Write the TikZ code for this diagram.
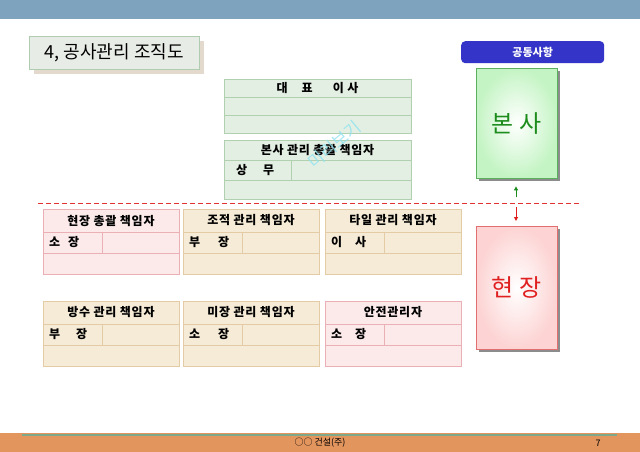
\documentclass[tikz,border=0pt]{standalone}
\usepackage{fontspec}
\setmainfont{Noto Sans CJK KR}
\usetikzlibrary{arrows.meta,shadows}

\definecolor{topband}{HTML}{7DA3BE}
\definecolor{footband}{HTML}{E3955E}
\definecolor{footline}{HTML}{7FA88A}
\definecolor{titlefill}{HTML}{E8ECE6}
\definecolor{titlerule}{HTML}{B0CCB0}
\definecolor{titleshadow}{HTML}{E3D9CC}
\definecolor{commonblue}{HTML}{3434C8}
\definecolor{hqgreen}{HTML}{C4F4C4}
\definecolor{hqrule}{HTML}{5CAF5C}
\definecolor{hqtext}{HTML}{1C8C1C}
\definecolor{sitepink}{HTML}{FDD3D3}
\definecolor{siterule}{HTML}{E07070}
\definecolor{sitetext}{HTML}{E02020}
\definecolor{greenfill}{HTML}{E3EFE3}
\definecolor{greenline}{HTML}{B0D0B0}
\definecolor{pinkfill}{HTML}{FCE9EA}
\definecolor{pinkline}{HTML}{EBB0B5}
\definecolor{beigefill}{HTML}{F6EBD6}
\definecolor{beigeline}{HTML}{E2CBA5}
\definecolor{dashred}{HTML}{E03030}
\definecolor{markcyan}{HTML}{8FE3F0}

\tikzset{
  greentab/.style={draw=greenline, fill=greenfill, inner sep=0pt, anchor=north west},
  pinktab/.style={draw=pinkline, fill=pinkfill, inner sep=0pt, anchor=north west},
  beigetab/.style={draw=beigeline, fill=beigefill, inner sep=0pt, anchor=north west},
  greenrule/.style={draw=greenline},
  pinkrule/.style={draw=pinkline},
  beigerule/.style={draw=beigeline},
  headtext/.style={font=\fontsize{12}{14}\selectfont\bfseries\addfontfeature{LetterSpace=6}, inner sep=0pt},
  celltext/.style={font=\fontsize{12}{14}\selectfont\bfseries, inner sep=0pt, anchor=west},
  sidebox/.style={minimum width=81pt, inner sep=0pt, anchor=north west,
    drop shadow={shadow xshift=3pt, shadow yshift=-3pt, fill=black!45, opacity=1}},
}

% one table of the site rows: name, x, y, colour, header, left cell
\newcommand{\orgtable}[6]{%
  \node[#4tab, minimum width=136pt, minimum height=65pt] (#1) at (#2,#3) {};
  \draw[#4rule] (#2,#3+23) -- (#2+136,#3+23);
  \draw[#4rule] (#2,#3+44) -- (#2+136,#3+44);
  \draw[#4rule] (#2+59,#3+23) -- (#2+59,#3+44);
  \node[headtext] (#1-head) at (#2+68,#3+11.5) {#5};
  \node[celltext] (#1-cell) at (#2+6,#3+33.5) {#6};
}

\begin{document}
\begin{tikzpicture}[x=1pt, y=-1pt]
  \useasboundingbox[fill=white] (0,0) rectangle (640,452);

  % bands
  \fill[topband] (0,0) rectangle (640,19);
  \fill[footband] (0,433) rectangle (640,452);
  \draw[footline, line width=1.5pt] (22,435) -- (617,435);
  \node[font=\fontsize{9}{10}\selectfont, inner sep=0pt] (company) at (320,443) {○○ 건설(주)};
  \node[font=\fontsize{9}{10}\selectfont, inner sep=0pt] (page) at (598,443) {7};

  % title
  \fill[titleshadow] (34,41) rectangle (204,74);
  \node[draw=titlerule, fill=titlefill, minimum width=170pt, minimum height=33pt,
    inner sep=0pt, anchor=north west, font=\fontsize{18}{20}\selectfont] (title) at (29,36)
    {4, 공사관리 조직도};

  % head office tables
  \node[greentab, minimum width=187pt, minimum height=54pt] (ceo) at (224,79) {};
  \draw[greenrule] (224,97) -- (411,97) (224,115) -- (411,115);
  \node[headtext] (ceo-head) at (317.5,88) {대\hspace{14pt}표\hspace{20pt}이 사};
  \node[greentab, minimum width=187pt, minimum height=59pt] (hqtab) at (224,140) {};
  \draw[greenrule] (224,160) -- (411,160) (224,180) -- (411,180) (291,160) -- (291,180);
  \node[headtext] (hqtab-head) at (317.5,150) {본사 관리 총괄 책임자};
  \node[celltext] (hqtab-cell) at (236,170) {상\hspace{16pt}무};

  % preview mark
  \node[font=\fontsize{17}{18}\selectfont, text=markcyan, opacity=0.8, rotate=40,
    inner sep=0pt] (mark) at (334,145) {미리보기};

  % site tables
  \orgtable{general}{43}{209}{pink}{현장 총괄 책임자}{소\hspace{8pt}장}
  \orgtable{frame}{183}{209}{beige}{조적 관리 책임자}{부\hspace{18pt}장}
  \orgtable{tile}{325}{209}{beige}{타일 관리 책임자}{이\hspace{13pt}사}
  \orgtable{water}{43}{301}{beige}{방수 관리 책임자}{부\hspace{16pt}장}
  \orgtable{plaster}{183}{301}{beige}{미장 관리 책임자}{소\hspace{18pt}장}
  \orgtable{safety}{325}{301}{pink}{안전관리자}{소\hspace{13pt}장}

  % right column
  \node[fill=commonblue, rounded corners=4pt, minimum width=143pt, minimum height=22pt,
    inner sep=0pt, anchor=north west, text=white, font=\fontsize{11}{12}\selectfont\bfseries]
    (common) at (461,41) {공동사항};
  \node[sidebox, draw=hqrule, inner color=white, outer color=hqgreen, minimum height=110pt,
    text=hqtext, font=\fontsize{24}{26}\selectfont] (bonsa) at (476,68) {본 사};
  \node[sidebox, draw=siterule, inner color=white, outer color=sitepink, minimum height=123pt,
    text=sitetext, font=\fontsize{24}{26}\selectfont] (hyeonjang) at (476,226) {현 장};

  % divider and arrows
  \draw[dashred, line width=1pt, dash pattern=on 5pt off 3pt] (38,203) -- (580,203);
  \coordinate (upfoot) at (516,197);
  \coordinate (downfoot) at (516,207);
  \draw[-{Triangle[length=4pt,width=4pt]}, hqtext, line width=1pt, shorten >=8pt]
    (upfoot) -- (bonsa.south -| upfoot);
  \draw[-{Triangle[length=4pt,width=4pt]}, sitetext, line width=1pt, shorten >=5pt]
    (downfoot) -- (hyeonjang.north -| downfoot);
\end{tikzpicture}
\end{document}
